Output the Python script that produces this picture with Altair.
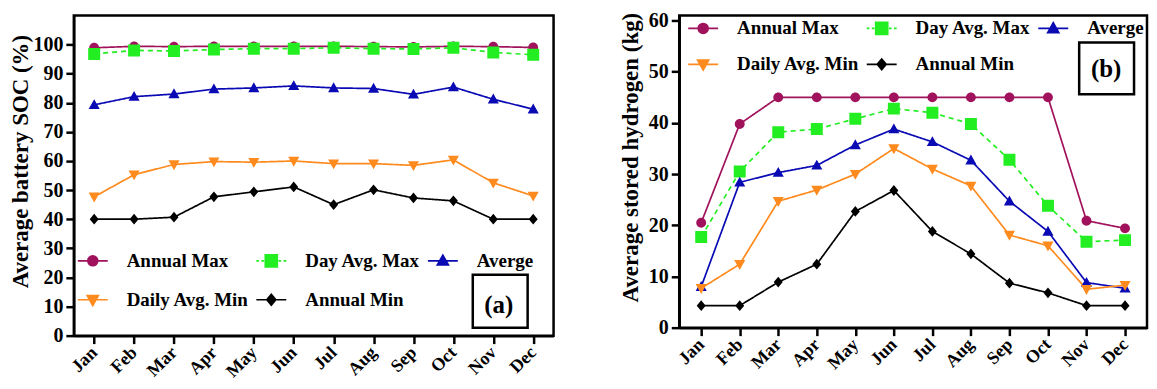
import altair as alt
import pandas as pd

months = ["Jan", "Feb", "Mar", "Apr", "May", "Jun", "Jul", "Aug", "Sep", "Oct", "Nov", "Dec"]
series = ["Annual Max", "Day Avg. Max", "Averge", "Daily Avg. Min", "Annual Min"]
colors = ["#A0125C", "#22EE22", "#0A0AB4", "#FF8A1E", "#000000"]
dashes = [[1, 0], [5, 4], [1, 0], [1, 0], [1, 0]]
# symbol = line segment (stroked, legend only) + filled marker; unit coords, size 900 -> 30 px
symbol_paths = [
    "M-1,0L1,0M-0.33,0A0.33,0.33 0 1,0 0.33,0A0.33,0.33 0 1,0 -0.33,0Z",
    "M-1,0L-0.82,0M-0.66,0L-0.48,0M0.48,0L0.66,0M0.82,0L1,0M-0.4,-0.4L0.4,-0.4L0.4,0.4L-0.4,0.4Z",
    "M-1,0L1,0M0,-0.38L0.37,0.28L-0.37,0.28Z",
    "M-1,0L1,0M-0.37,-0.28L0.37,-0.28L0,0.38Z",
    "M-1,0L1,0M0,-0.36L0.3,0L0,0.36L-0.3,0Z",
]

# Panel (a): average battery SOC (%)
soc_annual_max = [98.9, 99.4, 99.3, 99.4, 99.4, 99.4, 99.4, 99.3, 99.2, 99.4, 99.3, 99.0]
soc_day_avg_max = [96.8, 98.0, 97.8, 98.3, 98.6, 98.6, 98.9, 98.6, 98.5, 98.9, 97.3, 96.5]
soc_average = [79.3, 82.1, 83.0, 84.7, 85.1, 85.8, 85.1, 84.9, 82.9, 85.4, 81.2, 77.8]
soc_daily_avg_min = [47.7, 55.3, 58.8, 59.8, 59.6, 60.0, 59.1, 59.1, 58.5, 60.4, 52.5, 48.0]
soc_annual_min = [40.0, 40.0, 40.7, 47.7, 49.4, 51.1, 45.0, 50.1, 47.3, 46.3, 40.0, 40.0]

# Panel (b): average stored hydrogen (kg)
h2_annual_max = [20.5, 39.8, 45.0, 45.0, 45.0, 45.0, 45.0, 45.0, 45.0, 45.0, 20.9, 19.4]
h2_day_avg_max = [17.7, 30.5, 38.2, 38.8, 40.8, 42.8, 42.0, 39.8, 32.8, 23.8, 16.8, 17.1]
h2_average = [8.0, 28.4, 30.3, 31.7, 35.7, 38.8, 36.3, 32.7, 24.7, 18.8, 8.8, 7.7]
h2_daily_avg_min = [7.7, 12.4, 24.7, 26.9, 30.0, 35.0, 31.0, 27.7, 18.1, 16.0, 7.5, 8.3]
h2_annual_min = [4.3, 4.3, 8.9, 12.4, 22.7, 26.8, 18.8, 14.4, 8.7, 6.8, 4.3, 4.3]

FONT = "Liberation Serif"


def long_df(cols):
    rows = []
    for name, vals in zip(series, cols):
        for m, v in zip(months, vals):
            rows.append({"month": m, "series": name, "value": v})
    return pd.DataFrame(rows)


def panel(df, width, height, ydom, yticks, ytitle, title_x, title_y, xpad,
          leg_x, leg_y, row_pad, tag, box, tag_xy):
    base = alt.Chart(df)
    x = alt.X("month:N", sort=months, scale=alt.Scale(type="point", padding=xpad),
              axis=alt.Axis(title=None, labelAngle=-45, labelAlign="right",
                            labelBaseline="middle", labelFontSize=18, labelPadding=6,
                            labelFont=FONT, labelFontWeight="bold"))
    y = alt.Y("value:Q", scale=alt.Scale(domain=ydom, nice=False, zero=True),
              axis=alt.Axis(title=ytitle, values=yticks, titleFont=FONT,
                            titleFontWeight="bold", titleFontSize=23,
                            titleX=title_x, titleY=title_y,
                            labelFont=FONT, labelFontWeight="bold", labelFontSize=20,
                            labelPadding=3))
    line_layers = [
        base.transform_filter(alt.datum.series == s).mark_line(
            strokeWidth=1.7, color=c, strokeDash=d).encode(x=x, y=y)
        for s, c, d in zip(series, colors, dashes)
    ]
    leg = alt.Legend(title=None, orient="none", legendX=leg_x, legendY=leg_y, columns=3,
                     direction="horizontal", symbolSize=900,
                     symbolStrokeWidth=1.7, labelFont=FONT, labelFontSize=19,
                     labelFontWeight="bold", labelColor="black", labelOffset=18,
                     columnPadding=3, rowPadding=row_pad, padding=0, symbolOpacity=1)
    points = base.mark_point(filled=True, size=900, opacity=1).encode(
        x=x, y=y,
        color=alt.Color("series:N", scale=alt.Scale(domain=series, range=colors), legend=leg),
        stroke=alt.Stroke("series:N", scale=alt.Scale(domain=series, range=colors), legend=leg),
        shape=alt.Shape("series:N", scale=alt.Scale(domain=series, range=symbol_paths), legend=leg),
        strokeWidth=alt.value(0),
    )
    tag_df = pd.DataFrame({"tag": [tag]})
    rect = alt.Chart(tag_df).mark_rect(fillOpacity=0, stroke="black", strokeWidth=2.5).encode(
        x=alt.value(box[0]), x2=alt.value(box[1]), y=alt.value(box[2]), y2=alt.value(box[3]))
    text = alt.Chart(tag_df).mark_text(font=FONT, fontSize=25, fontWeight="bold",
                                       align="center", baseline="middle").encode(
        text="tag:N", x=alt.value(tag_xy[0]), y=alt.value(tag_xy[1]))
    return alt.layer(*line_layers, points, rect, text).properties(width=width, height=height)


pa = panel(long_df([soc_annual_max, soc_day_avg_max, soc_average, soc_daily_avg_min, soc_annual_min]),
           481, 321, [0, 110], list(range(0, 101, 10)), "Average battery SOC (%)",
           -41, 146, 0.51, 3, 230, 13, "(a)", (400, 455, 260, 313), (426, 290))
pb = panel(long_df([h2_annual_max, h2_day_avg_max, h2_average, h2_daily_avg_min, h2_annual_min]),
           469, 313, [0, 61], list(range(0, 61, 10)), "Average stored hydrogen (kg)",
           -37, 142, 0.57, 8, -3, 10, "(b)", (401, 456, 27, 79), (428, 54))

chart = alt.hconcat(pa, pb, spacing=126, bounds="flush").resolve_scale(
    x="independent", y="independent", color="independent", shape="independent",
    stroke="independent"
).resolve_legend(color="independent", shape="independent", stroke="independent").properties(
    padding={"left": 0, "top": 0, "right": 0, "bottom": 0}
).configure_view(stroke="black", strokeWidth=2.5).configure_axis(
    domainColor="black", domainWidth=2.5, tickColor="black", tickWidth=2.5, tickSize=8,
    labelColor="black", titleColor="black", grid=False
)

chart.save("out.html", embed_options={"renderer": "svg", "actions": False})
